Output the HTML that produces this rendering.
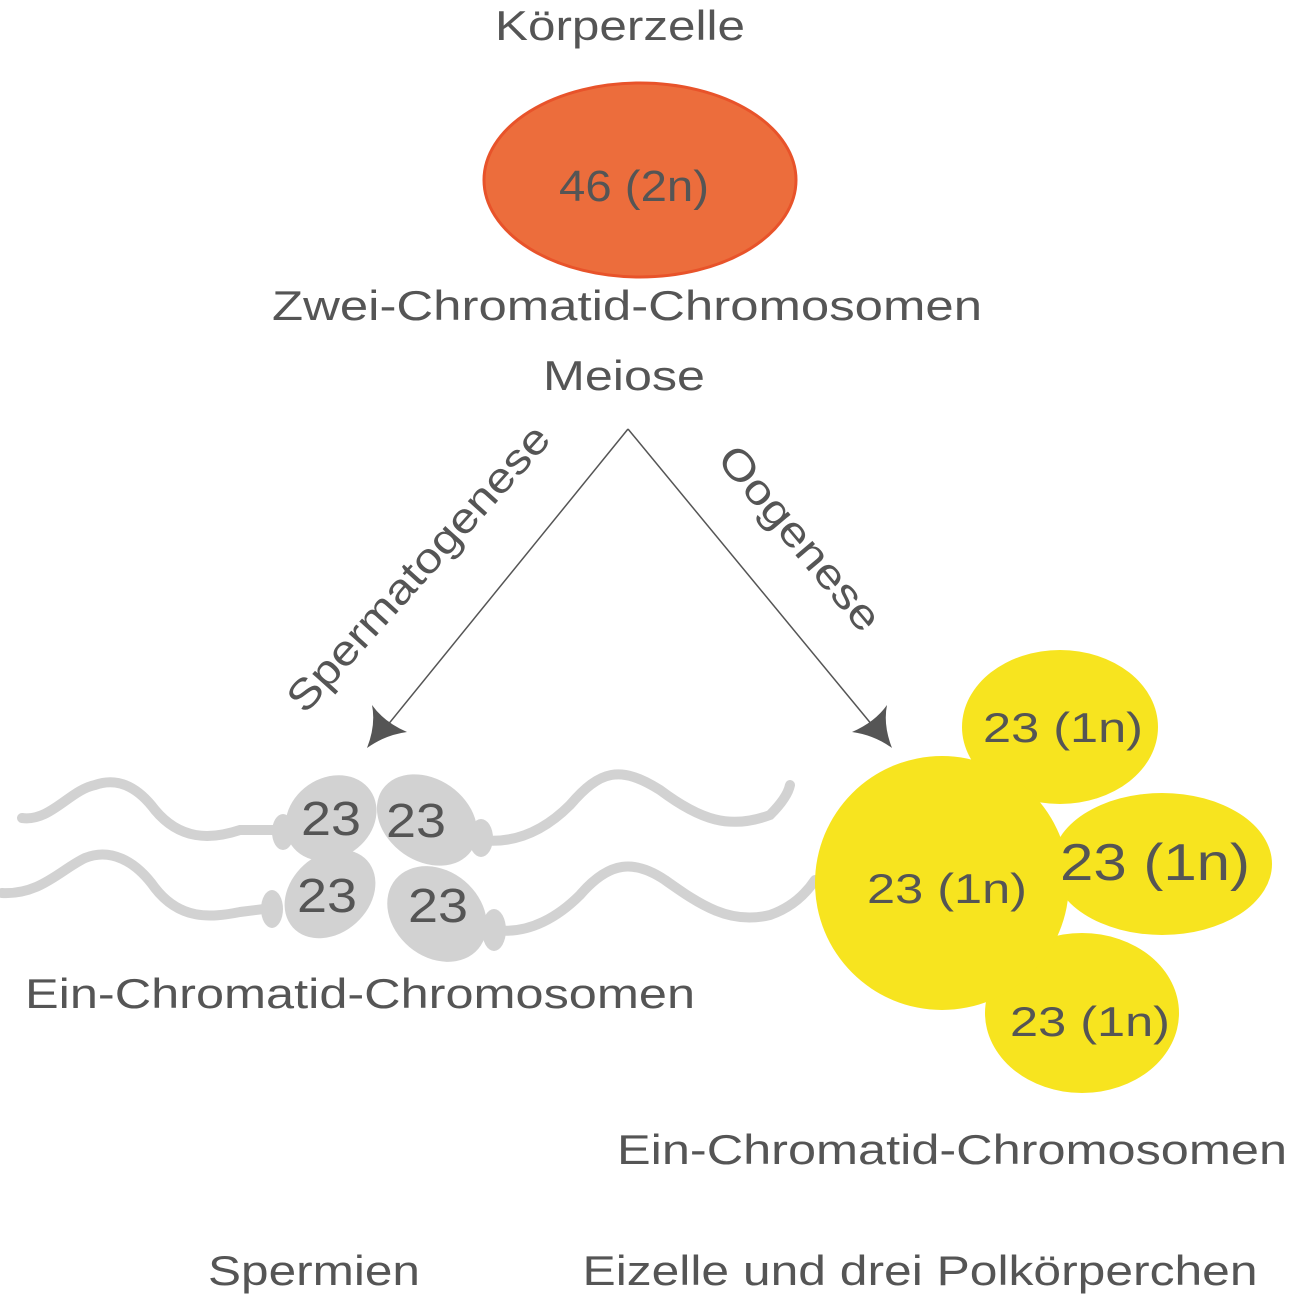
<!DOCTYPE html>
<html><head><meta charset="utf-8"><style>
html,body{margin:0;padding:0;background:#fff}
svg{display:block}
text{font-family:"Liberation Sans",sans-serif;fill:#555}
</style></head><body>
<svg width="1289" height="1296" viewBox="0 0 1289 1296" xmlns="http://www.w3.org/2000/svg">
<text x="620" y="40" font-size="42" text-anchor="middle" textLength="250" lengthAdjust="spacingAndGlyphs">Körperzelle</text>
<ellipse cx="640" cy="180" rx="156" ry="97" fill="#EC6D3C" stroke="#E8532A" stroke-width="3"/>
<text x="634" y="201" font-size="44" text-anchor="middle" textLength="150" lengthAdjust="spacingAndGlyphs">46 (2n)</text>
<text x="627" y="320" font-size="42" text-anchor="middle" textLength="710" lengthAdjust="spacingAndGlyphs">Zwei-Chromatid-Chromosomen</text>
<text x="624" y="390" font-size="42" text-anchor="middle" textLength="162" lengthAdjust="spacingAndGlyphs">Meiose</text>

<line x1="628" y1="429" x2="378" y2="737" stroke="#555" stroke-width="1.5"/>
<line x1="628" y1="429" x2="882" y2="737" stroke="#555" stroke-width="1.5"/>
<path d="M367,748 Q376,725 372,705 Q384,722 407,732 Q385,735 367,748 Z" fill="#555"/>
<path d="M892,748 Q883,725 887,705 Q875,722 852,732 Q874,735 892,748 Z" fill="#555"/>

<text x="418" y="568" font-size="42" text-anchor="middle" dominant-baseline="central" transform="rotate(-48 418 568)" textLength="370" lengthAdjust="spacingAndGlyphs">Spermatogenese</text>
<text x="800" y="538" font-size="42" text-anchor="middle" dominant-baseline="central" transform="rotate(50 800 538)" textLength="228" lengthAdjust="spacingAndGlyphs">Oogenese</text>

<g fill="none" stroke="#d2d2d2" stroke-linecap="round">
<path d="M22,818 C50,822 70,790 95,785 C120,776 140,790 155,810 C180,840 210,840 240,830 L283,830" stroke-width="10"/>
<path d="M480,840 C520,845 550,825 570,805 C600,770 620,765 660,790 C700,820 730,830 770,815 C780,805 788,795 790,785" stroke-width="10"/>
<path d="M2,893 C40,895 60,870 85,858 C110,848 135,860 155,888 C180,920 210,918 240,912 L272,908" stroke-width="10"/>
<path d="M495,930 C530,935 560,915 580,895 C610,860 635,860 665,880 C700,905 730,925 770,915 C790,908 805,895 815,880" stroke-width="10"/>
</g>
<g fill="#d2d2d2">
<ellipse cx="331" cy="818" rx="48" ry="40" transform="rotate(-35 331 818)"/>
<ellipse cx="427" cy="820" rx="54" ry="41" transform="rotate(35 427 820)"/>
<ellipse cx="283" cy="832" rx="11" ry="18"/>
<ellipse cx="481" cy="838" rx="12" ry="19"/>
<ellipse cx="330" cy="894" rx="50" ry="39" transform="rotate(-42 330 894)"/>
<ellipse cx="437" cy="914" rx="54" ry="43" transform="rotate(40 437 914)"/>
<ellipse cx="272" cy="909" rx="11" ry="19"/>
<ellipse cx="494" cy="930" rx="12" ry="21"/>
</g>
<text x="331" y="835" font-size="48" text-anchor="middle" textLength="60" lengthAdjust="spacingAndGlyphs">23</text>
<text x="416" y="837" font-size="48" text-anchor="middle" textLength="60" lengthAdjust="spacingAndGlyphs">23</text>
<text x="327" y="912" font-size="48" text-anchor="middle" textLength="60" lengthAdjust="spacingAndGlyphs">23</text>
<text x="438" y="922" font-size="48" text-anchor="middle" textLength="60" lengthAdjust="spacingAndGlyphs">23</text>
<text x="360" y="1008" font-size="42" text-anchor="middle" textLength="670" lengthAdjust="spacingAndGlyphs">Ein-Chromatid-Chromosomen</text>

<g fill="#F7E41F">
<ellipse cx="1060" cy="727" rx="98" ry="77"/>
<ellipse cx="1162" cy="864" rx="110" ry="71"/>
<ellipse cx="1082" cy="1013" rx="97" ry="80"/>
<circle cx="942" cy="883" r="127"/>
</g>
<text x="1063" y="742" font-size="42" text-anchor="middle" textLength="160" lengthAdjust="spacingAndGlyphs">23 (1n)</text>
<text x="1155" y="880" font-size="52" text-anchor="middle" textLength="190" lengthAdjust="spacingAndGlyphs">23 (1n)</text>
<text x="947" y="903" font-size="42" text-anchor="middle" textLength="160" lengthAdjust="spacingAndGlyphs">23 (1n)</text>
<text x="1090" y="1036" font-size="42" text-anchor="middle" textLength="160" lengthAdjust="spacingAndGlyphs">23 (1n)</text>

<text x="952" y="1164" font-size="42" text-anchor="middle" textLength="670" lengthAdjust="spacingAndGlyphs">Ein-Chromatid-Chromosomen</text>
<text x="314" y="1285" font-size="42" text-anchor="middle" textLength="212" lengthAdjust="spacingAndGlyphs">Spermien</text>
<text x="920" y="1285" font-size="42" text-anchor="middle" textLength="675" lengthAdjust="spacingAndGlyphs">Eizelle und drei Polkörperchen</text>
</svg>
</body></html>
